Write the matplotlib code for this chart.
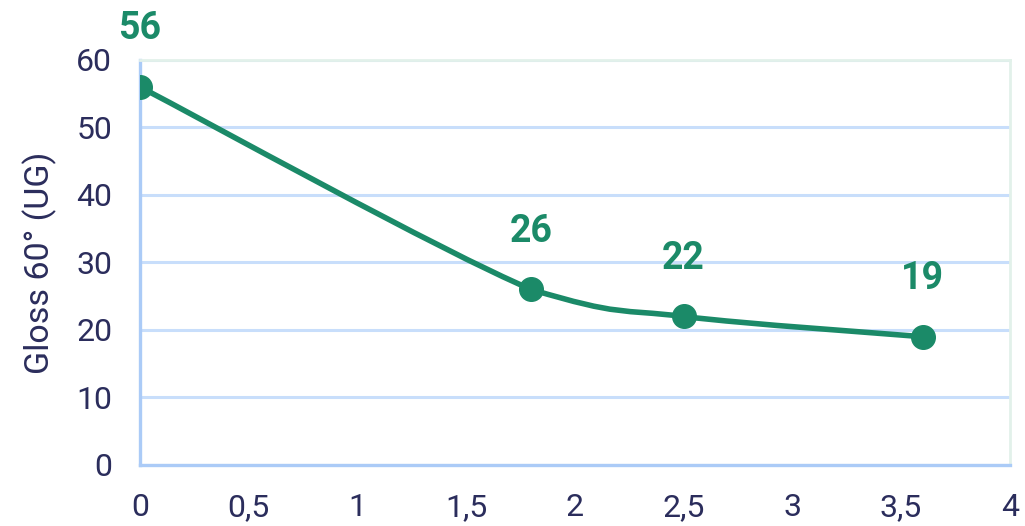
import matplotlib.pyplot as plt
from matplotlib.path import Path
from matplotlib.patches import PathPatch
import numpy as np

# data
x_vals = [0, 1.8, 2.5, 3.6]
gloss = [56, 26, 22, 19]
x_ticks = [0, 0.5, 1, 1.5, 2, 2.5, 3, 3.5, 4]
x_labels = ["0", "0,5", "1", "1,5", "2", "2,5", "3", "3,5", "4"]
y_ticks = [0, 10, 20, 30, 40, 50, 60]

green = "#1b8a68"
navy = "#2b2d5c"
grid_blue = "#c8defb"

plt.rcParams['font.family'] = ['Roboto', 'DejaVu Sans']

fig = plt.figure(figsize=(10.25, 5.26), dpi=100)
ax = fig.add_axes([0.1366, 0.116, 0.8484, 0.770])

# smoothed line (catmull-rom -> bezier), control points kept inside each
# segment's y range so the curve doesn't dip below a point
px = np.array(x_vals, dtype=float)
py = np.array(gloss, dtype=float)
verts = [(px[0], py[0])]
codes = [Path.MOVETO]
n = len(px)
for i in range(n - 1):
    p0 = np.array([px[max(i - 1, 0)], py[max(i - 1, 0)]])
    p1 = np.array([px[i], py[i]])
    p2 = np.array([px[i + 1], py[i + 1]])
    p3 = np.array([px[min(i + 2, n - 1)], py[min(i + 2, n - 1)]])
    c1 = p1 + (p2 - p0) / 6
    c2 = p2 - (p3 - p1) / 6
    lo, hi = min(p1[1], p2[1]), max(p1[1], p2[1])
    c1[1] = np.clip(c1[1], lo, hi)
    c2[1] = np.clip(c2[1], lo, hi)
    verts += [tuple(c1), tuple(c2), tuple(p2)]
    codes += [Path.CURVE4] * 3
ax.add_patch(PathPatch(Path(verts, codes), fill=False, edgecolor=green,
                       lw=4, zorder=3, capstyle='round'))
ax.plot(x_vals, gloss, 'o', color=green, markersize=17, zorder=4)

for xv, yv in zip(x_vals, gloss):
    ax.annotate(str(yv), (xv, yv), xytext=(0, 42), textcoords='offset points',
                ha='center', va='center', fontsize=27, fontweight='bold',
                color=green, annotation_clip=False)

ax.set_xlim(0, 4)
ax.set_ylim(0, 60)
ax.set_xticks(x_ticks)
ax.set_xticklabels(x_labels)
ax.set_yticks(y_ticks)
ax.tick_params(axis='both', length=0, labelsize=23, labelcolor=navy)
ax.tick_params(axis='x', pad=20)
ax.tick_params(axis='y', pad=20)

ax.grid(axis='y', color=grid_blue, lw=2.2, zorder=0)
ax.set_axisbelow(True)
ax.spines['left'].set_color("#abcbf7")
ax.spines['bottom'].set_color("#abcbf7")
ax.spines['left'].set_linewidth(2.4)
ax.spines['bottom'].set_linewidth(2.4)
ax.spines['top'].set_color("#e2f1ea")
ax.spines['right'].set_color("#e2f1ea")
ax.spines['top'].set_linewidth(2)
ax.spines['right'].set_linewidth(2)

ax.set_ylabel("Gloss 60° (UG)", fontsize=24.5, color=navy, labelpad=14)

fig.savefig("out.png", dpi=100)
